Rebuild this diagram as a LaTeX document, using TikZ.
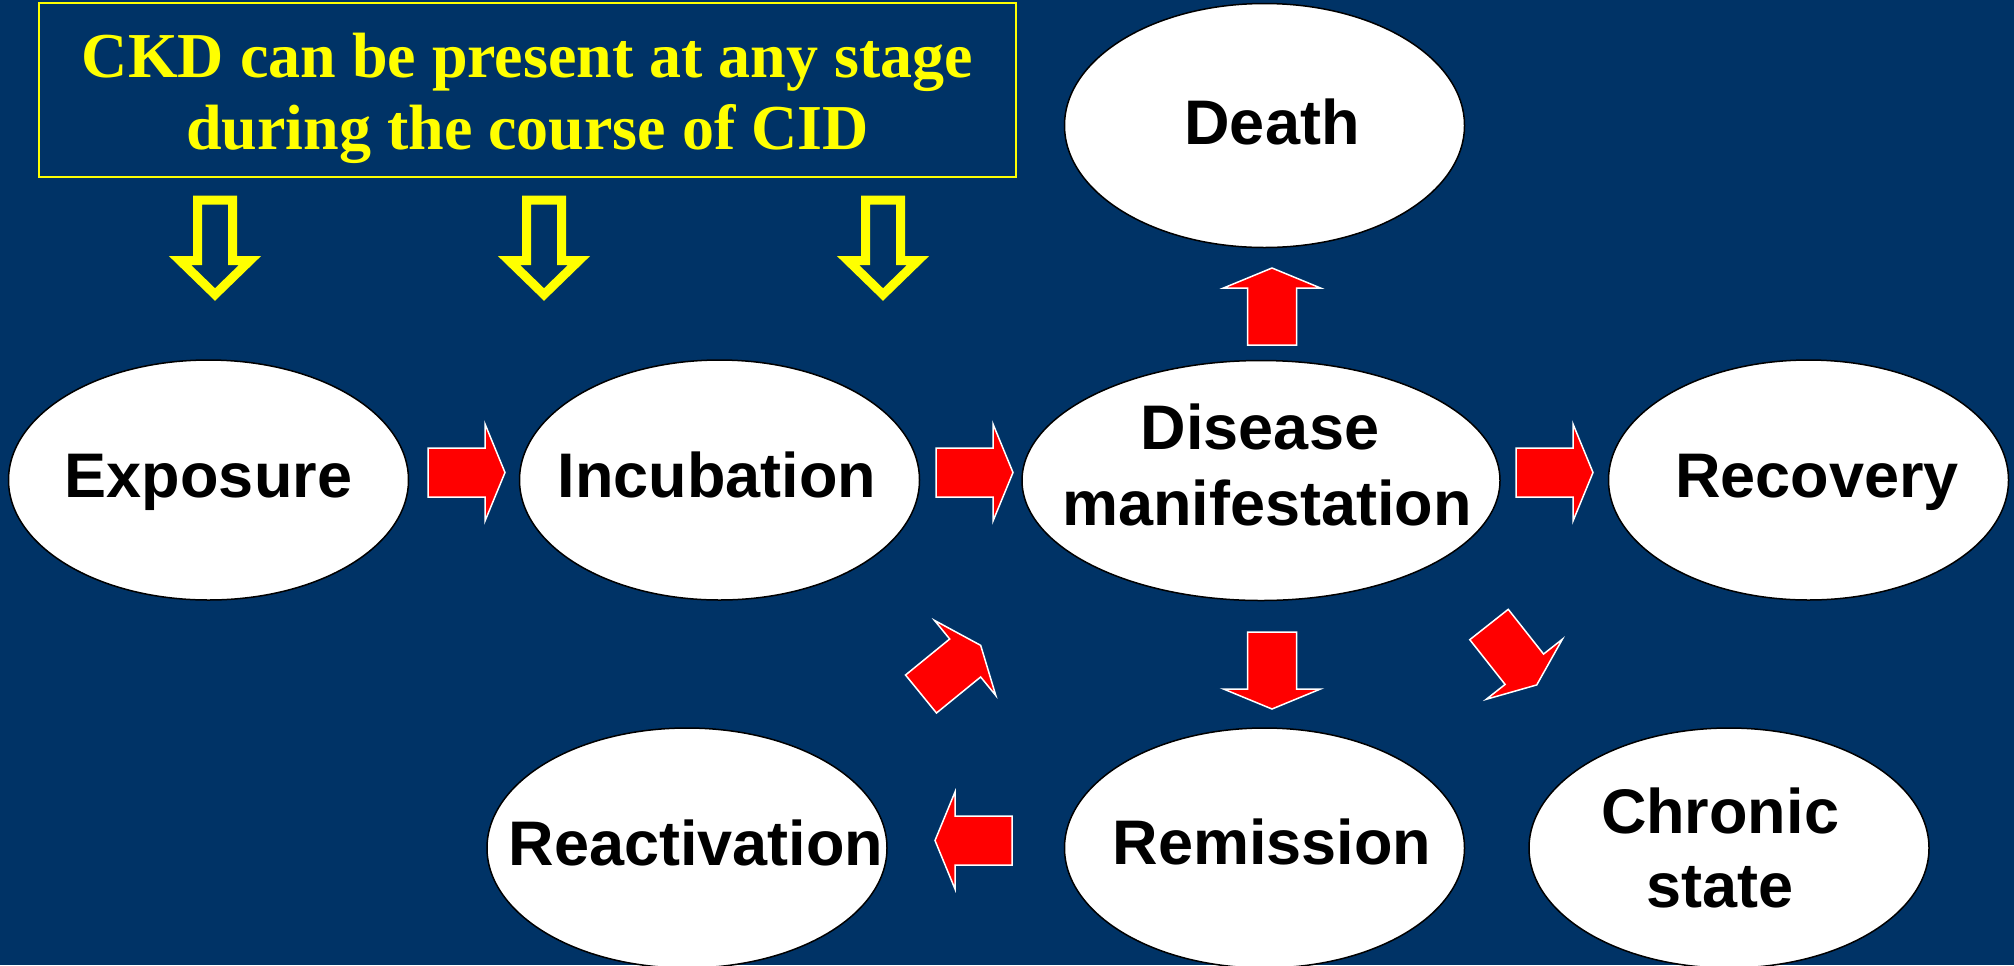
\documentclass[tikz,border=0pt]{standalone}
\usepackage{fontspec}
\setmainfont{Liberation Sans}
\newfontfamily\lblfont{Liberation Sans}
\newfontfamily\ckdfont{Liberation Serif}
\usetikzlibrary{shapes.geometric}
\definecolor{bgblue}{RGB}{0,51,102}
\definecolor{arrred}{RGB}{255,0,0}
\definecolor{ckdyellow}{RGB}{255,255,0}
\tikzset{
  bubble/.style={ellipse, draw=black, line width=0.75pt, fill=white, inner sep=0pt,
    minimum width=200pt, minimum height=120pt},
  lbl/.style={anchor=base, inner sep=0pt, text=black,
    font=\lblfont\bfseries\fontsize{31.5}{36}\selectfont},
  ckdtxt/.style={anchor=base, inner sep=0pt, text=ckdyellow,
    font=\ckdfont\bfseries\fontsize{32}{36}\selectfont},
  ckdbox/.style={draw=ckdyellow, line width=1pt, inner sep=0pt,
    minimum width=488.5pt, minimum height=87pt},
  redarr/.pic={
    \filldraw[fill=arrred, draw=white, line width=0.75pt, line join=miter]
      (0pt,-12.25pt) -- (28.5pt,-12.25pt) -- (28.5pt,-24.25pt) -- (38.5pt,0pt)
      -- (28.5pt,24.25pt) -- (28.5pt,12.25pt) -- (0pt,12.25pt) -- cycle;
  },
  yelarr/.pic={
    \draw[draw=ckdyellow, line width=4.5pt, line join=miter]
      (-8.75pt,0pt) -- (8.75pt,0pt) -- (8.75pt,-30.25pt) -- (17.5pt,-30.25pt)
      -- (0pt,-47.25pt) -- (-17.5pt,-30.25pt) -- (-8.75pt,-30.25pt) -- cycle;
  }
}
\begin{document}
\begin{tikzpicture}[x=0.5pt,y=-0.5pt]
\useasboundingbox (0,0) rectangle (2014,965);
\clip (0,0) rectangle (2014,965);
\fill[bgblue] (0,0) rectangle (2014,965);

% heading box
\node[ckdbox] (ckd) at (527.5,90) {};
\node[ckdtxt] (ckd1) at (527.5,77) {CKD can be present at any stage};
\node[ckdtxt] (ckd2) at (527.5,149) {during the course of CID};

% yellow outline arrows
\pic at (215,200) {yelarr};
\pic at (544,200) {yelarr};
\pic at (883,200) {yelarr};

% states
\node[bubble] (exposure) at (208.5,480) {};
\node[bubble] (incubation) at (719.5,480) {};
\node[bubble, minimum width=239pt] (disease) at (1261,480.5) {};
\node[bubble] (recovery) at (1808.5,480) {};
\node[bubble, minimum height=122pt] (death) at (1264.5,125.5) {};
\node[bubble] (reactivation) at (687,848) {};
\node[bubble] (remission) at (1264.5,848) {};
\node[bubble] (chronic) at (1729,848) {};

\node[lbl] (exposureT) at (208.5,497) {Exposure};
\node[lbl] (incubationT) at (717,497) {Incubation};
\node[lbl] (diseaseT1) at (1260,449) {Disease};
\node[lbl] (diseaseT2) at (1267,525) {manifestation};
\node[lbl] (recoveryT) at (1817,497) {Recovery};
\node[lbl] (deathT) at (1272,144) {Death};
\node[lbl] (reactivationT) at (696,865) {Reactivation};
\node[lbl] (remissionT) at (1272,864) {Remission};
\node[lbl] (chronicT1) at (1720,833) {Chronic};
\node[lbl] (chronicT2) at (1720,907) {state};

% red block arrows
\pic at (428,472.5) {redarr};
\pic at (936,472.5) {redarr};
\pic at (1516,472.5) {redarr};
\pic[rotate=90] at (1272,345) {redarr};
\pic[rotate=-90] at (1272,632) {redarr};
\pic[rotate=180] at (1012,840.5) {redarr};
\pic[rotate=39.2] at (921,694) {redarr};
\pic[rotate=-51.7] at (1489,624.5) {redarr};
\end{tikzpicture}
\end{document}
